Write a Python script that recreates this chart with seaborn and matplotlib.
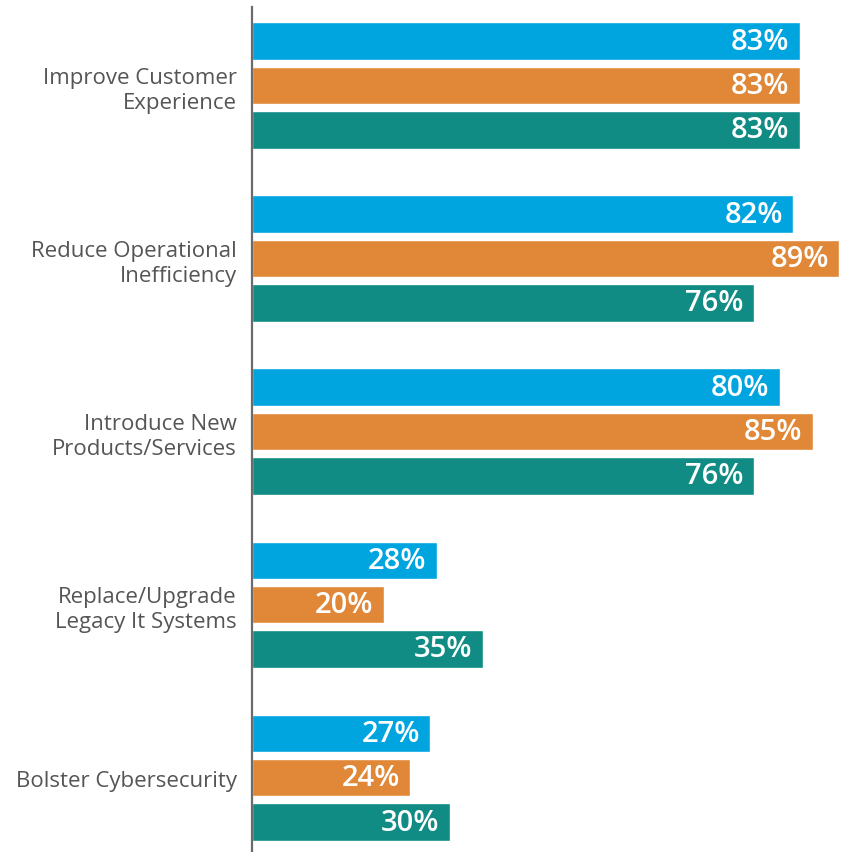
import pandas as pd
import matplotlib
matplotlib.use("Agg")
import matplotlib.pyplot as plt
import seaborn as sns

# chart data
categories = [
    "Improve Customer\nExperience",
    "Reduce Operational\nInefficiency",
    "Introduce New\nProducts/Services",
    "Replace/Upgrade\nLegacy It Systems",
    "Bolster Cybersecurity",
]
series = ["Series 1", "Series 2", "Series 3"]
values_1 = [83, 82, 80, 28, 27]
values_2 = [83, 89, 85, 20, 24]
values_3 = [83, 76, 76, 35, 30]
colors = ["#00A5DF", "#E08838", "#108C84"]

rows = []
for name, vals in zip(series, [values_1, values_2, values_3]):
    for cat, v in zip(categories, vals):
        rows.append({"category": cat, "series": name, "value": v})
df = pd.DataFrame(rows)

sns.set_style("white")
plt.rcParams["font.family"] = ["Open Sans", "DejaVu Sans"]

fig = plt.figure(figsize=(8.46, 8.53), dpi=100)
ax = fig.add_axes([252 / 846, 0, 594 / 846, 1])

sns.barplot(data=df, y="category", x="value", hue="series", orient="h",
            palette=colors, width=0.77, gap=0.16, legend=False,
            saturation=1, ax=ax)

for cont, vals in zip(ax.containers, [values_1, values_2, values_3]):
    texts = ax.bar_label(cont, labels=[f"{v}%" for v in vals], padding=-7.5,
                         color="white", fontsize=21, fontweight="semibold")
    for t in texts:
        t.set_ha("right")

ax.set_xlim(0, 90)
ax.set_ylim(4.43, -0.50)
ax.set_xlabel("")
ax.set_ylabel("")
ax.set_xticks([])
ax.tick_params(axis="y", length=0, pad=11, labelsize=16, labelcolor="#555555")
for lbl in ax.get_yticklabels():
    lbl.set_linespacing(1.25)

for s in ["top", "right", "bottom"]:
    ax.spines[s].set_visible(False)
ax.spines["left"].set_color("#6b6b6b")
ax.spines["left"].set_linewidth(1.6)
ax.spines["left"].set_bounds(4.43, -0.455)

fig.savefig("out.png", dpi=100)
